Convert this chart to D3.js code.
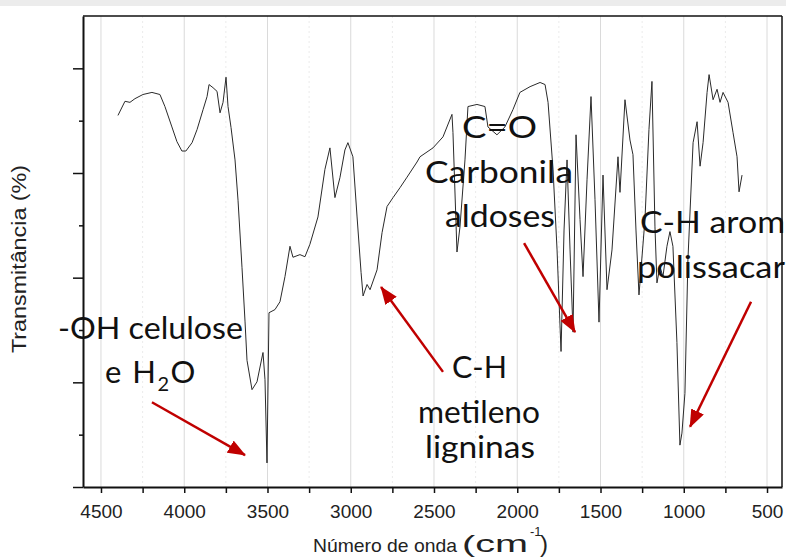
<!DOCTYPE html>
<html>
<head>
<meta charset="utf-8">
<script src="https://cdn.jsdelivr.net/npm/d3@7"></script>
<style>
  body { margin: 0; background: #fff; }
  svg { display: block; }
  .axis text { font-family: "Liberation Sans", Arial, sans-serif; font-size: 19px; fill: #222; }
  .label { font-family: "Liberation Sans", Arial, sans-serif; fill: #222; }
  .note { font-family: Lato, "Open Sans", sans-serif; font-size: 31px; fill: #111; }
</style>
</head>
<body>
<div class="chart"></div>
<script>
// FTIR spectrum (wavenumber in cm-1, transmittance in arbitrary %)
const wavenumber = [
  4398, 4356, 4326, 4296, 4248, 4194, 4146, 4116, 4074, 4044, 4014, 3990, 3953, 3923, 3887,
  3863, 3851, 3827, 3803, 3785, 3767, 3749, 3737, 3719, 3695, 3677, 3653, 3635, 3623, 3593,
  3563, 3527, 3515, 3503, 3491, 3455, 3425, 3395, 3365, 3347, 3305, 3275, 3245, 3197, 3155,
  3125, 3095, 3065, 3035, 3017, 2987, 2962, 2938, 2926, 2902, 2884, 2842, 2812, 2782, 2746,
  2704, 2662, 2602, 2584, 2506, 2446, 2392, 2386, 2362, 2344, 2314, 2296, 2242, 2194, 2176,
  2122, 2074, 2026, 1984, 1923, 1863, 1833, 1815, 1785, 1761, 1737, 1719, 1701, 1683, 1665,
  1647, 1623, 1605, 1581, 1557, 1533, 1509, 1485, 1461, 1431, 1395, 1383, 1353, 1323, 1305,
  1287, 1269, 1233, 1209, 1191, 1173, 1161, 1143, 1125, 1101, 1083, 1065, 1041, 1023, 1011,
  993, 975, 944, 920, 902, 884, 860, 848, 824, 800, 782, 764, 734, 704, 680, 668, 650
];
const transmittance = [
  71.0, 73.7, 73.5, 74.2, 75.0, 75.4, 75.0, 72.7, 68.8, 66.0, 64.2, 64.2, 65.8, 68.3, 72.1,
  74.6, 76.9, 76.3, 75.6, 71.5, 73.5, 78.3, 72.7, 68.7, 62.5, 54.8, 41.9, 31.7, 24.2, 18.6,
  20.1, 25.7, 20.5, 4.6, 33.3, 33.9, 35.4, 40.2, 46.0, 43.9, 44.4, 44.0, 46.4, 51.6, 60.7,
  64.8, 55.3, 59.1, 64.4, 65.8, 63.1, 51.6, 41.0, 36.5, 38.7, 37.7, 41.5, 48.6, 53.6, 55.3,
  57.2, 59.2, 62.1, 63.1, 64.8, 66.9, 71.2, 67.7, 44.9, 49.7, 62.5, 72.7, 73.1, 72.7, 68.8,
  67.3, 68.8, 72.1, 75.4, 76.5, 77.3, 76.9, 73.5, 60.6, 45.3, 25.9, 49.1, 62.5, 45.3, 29.6,
  67.3, 51.1, 40.2, 58.7, 74.6, 54.9, 31.5, 59.6, 37.7, 45.3, 63.1, 56.3, 74.0, 66.3, 63.5,
  49.1, 36.7, 51.1, 68.3, 77.5, 49.7, 39.0, 42.1, 40.2, 46.0, 48.8, 46.0, 27.6, 8.0, 10.3,
  17.9, 43.4, 65.8, 69.8, 61.3, 65.8, 75.4, 78.8, 74.0, 76.0, 73.5, 75.4, 73.5, 67.7, 63.1, 56.4, 59.6
];

const xTicks = [4500, 4000, 3500, 3000, 2500, 2000, 1500, 1000, 500];
const xMinorTicks = [4250, 3750, 3250, 2750, 2250, 1750, 1250, 750];
const yTicks = [0, 20, 40, 60, 80];
const yMinorTicks = [10, 30, 50, 70];

// annotation labels and arrows, anchored in data units
const notes = [
  { text: "C=O", wn: 2332, t: 66.7, len: 75 },
  { text: "Carbonila", wn: 2554, t: 58.1, len: 148 },
  { text: "aldoses", wn: 2434, t: 49.7, len: 110 },
  { text: "C-H arom", wn: 1263, t: 48.5, len: 145 },
  { text: "polissacar", wn: 1281, t: 39.9, len: 148 },
  { text: "-OH celulose", wn: 4758, t: 28.3, len: 185 },
  { text: "C-H", wn: 2392, t: 20.8, len: 55 },
  { text: "metileno", wn: 2596, t: 12.2, len: 122 },
  { text: "ligninas", wn: 2554, t: 5.5, len: 110 }
];
const arrows = [
  { from: [4194, 16.2], to: [3635, 6.1] },
  { from: [2446, 22.0], to: [2818, 38.2] },
  { from: [1959, 46.6], to: [1653, 29.6] },
  { from: [596, 35.4], to: [962, 11.5] }
];

const margin = { top: 16, right: 4, bottom: 71, left: 83 };
const width = 786 - margin.left - margin.right;
const height = 558 - margin.top - margin.bottom;

const root = d3.select('.chart')
  .append('svg')
  .attr('width', 786)
  .attr('height', 558);

// grey strip along the top edge of the screenshot
root.append('rect').attr('x', 0).attr('y', 0).attr('width', 786).attr('height', 6).attr('fill', '#ececec');

const svg = root.append('g')
  .attr('transform', `translate(${margin.left}, ${margin.top})`);

const xScale = d3.scaleLinear()
  .domain([4608, 410])
  .range([0, width]);

const yScale = d3.scaleLinear()
  .domain([0, 90])
  .range([height, 0]);

// vertical grid
svg.selectAll('.minor-grid')
  .data(xMinorTicks)
  .enter()
  .append('line')
  .attr('x1', d => xScale(d)).attr('x2', d => xScale(d))
  .attr('y1', 0).attr('y2', height)
  .attr('stroke', '#ebebeb')
  .attr('stroke-dasharray', '2,3');

svg.selectAll('.major-grid')
  .data(xTicks)
  .enter()
  .append('line')
  .attr('x1', d => xScale(d)).attr('x2', d => xScale(d))
  .attr('y1', 0).attr('y2', height)
  .attr('stroke', '#dadada');

// spectrum
const line = d3.line()
  .x(d => xScale(d[0]))
  .y(d => yScale(d[1]));

svg.append('path')
  .datum(d3.zip(wavenumber, transmittance))
  .attr('fill', 'none')
  .attr('stroke', '#2a2a2a')
  .attr('stroke-width', 1)
  .attr('d', line);

// frame
svg.append('line').attr('x1', 0).attr('x2', width).attr('y1', 0).attr('y2', 0)
  .attr('stroke', '#111').attr('stroke-width', 1.5);
svg.append('line').attr('x1', width).attr('x2', width).attr('y1', 0).attr('y2', height)
  .attr('stroke', '#111').attr('stroke-width', 1.5);

// axes
const xAxis = d3.axisBottom(xScale).tickValues(xTicks).tickSize(6).tickSizeOuter(0).tickFormat(d3.format('d'));
const gx = svg.append('g')
  .attr('class', 'axis')
  .attr('transform', `translate(0, ${height})`)
  .call(xAxis);
gx.select('.domain').attr('stroke', '#111').attr('stroke-width', 2);
gx.selectAll('.tick line').attr('stroke', '#111').attr('stroke-width', 1.5);
gx.selectAll('text').attr('y', 31).attr('dy', 0);

svg.append('g')
  .attr('transform', `translate(0, ${height})`)
  .call(d3.axisBottom(xScale).tickValues(xMinorTicks).tickSize(6).tickFormat(''))
  .call(g => g.select('.domain').remove())
  .selectAll('.tick line').attr('stroke', '#111').attr('stroke-width', 1.5);

const gy = svg.append('g')
  .attr('class', 'axis')
  .call(d3.axisLeft(yScale).tickValues(yTicks).tickSize(10).tickSizeOuter(0).tickFormat(''));
gy.select('.domain').attr('stroke', '#111').attr('stroke-width', 2);
gy.selectAll('.tick line').attr('stroke', '#111').attr('stroke-width', 1.5);

svg.append('g')
  .call(d3.axisLeft(yScale).tickValues(yMinorTicks).tickSize(4).tickFormat(''))
  .call(g => g.select('.domain').remove())
  .selectAll('.tick line').attr('stroke', '#111').attr('stroke-width', 1.5);

// axis titles
root.append('text')
  .attr('class', 'label')
  .attr('transform', 'translate(26, 259) rotate(-90)')
  .attr('text-anchor', 'middle')
  .attr('font-size', 20)
  .attr('textLength', 188)
  .attr('lengthAdjust', 'spacingAndGlyphs')
  .text('Transmitância (%)');

root.append('text').attr('class', 'label')
  .attr('x', 313).attr('y', 552).attr('font-size', 19)
  .attr('textLength', 144).attr('lengthAdjust', 'spacingAndGlyphs')
  .text('Número de onda');
root.append('text').attr('class', 'label')
  .attr('x', 462).attr('y', 552).attr('font-size', 24)
  .attr('textLength', 66).attr('lengthAdjust', 'spacingAndGlyphs')
  .text('(cm');
root.append('text').attr('class', 'label')
  .attr('x', 530).attr('y', 536).attr('font-size', 13)
  .text('-1');
root.append('text').attr('class', 'label')
  .attr('x', 540).attr('y', 552).attr('font-size', 24)
  .text(')');

// arrows
const defs = root.append('defs');
defs.append('marker')
  .attr('id', 'head')
  .attr('markerUnits', 'userSpaceOnUse')
  .attr('markerWidth', 18).attr('markerHeight', 14)
  .attr('refX', 17).attr('refY', 7)
  .attr('orient', 'auto')
  .append('path')
  .attr('d', 'M0,0 L18,7 L0,14 Z')
  .attr('fill', '#c00000');

svg.selectAll('.arrow')
  .data(arrows)
  .enter()
  .append('line')
  .attr('x1', d => xScale(d.from[0]))
  .attr('y1', d => yScale(d.from[1]))
  .attr('x2', d => xScale(d.to[0]))
  .attr('y2', d => yScale(d.to[1]))
  .attr('stroke', '#c00000')
  .attr('stroke-width', 2.5)
  .attr('marker-end', 'url(#head)');

// annotation texts
svg.selectAll('.note')
  .data(notes)
  .enter()
  .append('text')
  .attr('class', 'note')
  .attr('x', d => xScale(d.wn))
  .attr('y', d => yScale(d.t))
  .attr('textLength', d => d.len)
  .attr('lengthAdjust', 'spacingAndGlyphs')
  .text(d => d.text);

const water = svg.append('text')
  .attr('class', 'note')
  .attr('x', xScale(4476))
  .attr('y', yScale(19.9))
  .attr('letter-spacing', 1.5);
water.append('tspan').text('e H');
water.append('tspan').attr('font-size', 20).attr('dy', 8).text('2');
water.append('tspan').attr('dy', -8).text('O');
</script>
</body>
</html>
